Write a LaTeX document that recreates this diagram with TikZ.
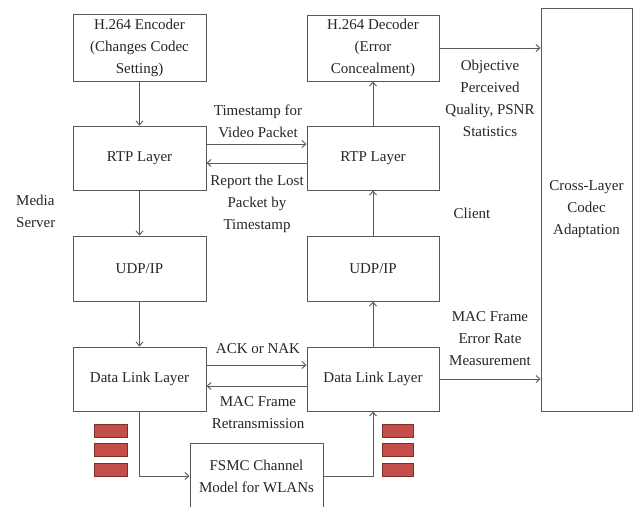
\documentclass[tikz,border=0pt]{standalone}
\usepackage{fontspec}
\setmainfont{Liberation Serif}
\usetikzlibrary{arrows.meta,calc}
\definecolor{barfill}{RGB}{196,78,74}
\definecolor{barline}{RGB}{130,45,42}
\begin{document}
\begin{tikzpicture}[x=1pt,y=-1pt,
  every node/.style={font=\fontsize{15pt}{22pt}\selectfont, text=black!85},
  box/.style={draw=black!65, line width=0.9pt, align=center, inner sep=0pt, minimum width=#1},
  box/.default=133pt,
  lbl/.style={align=center, inner sep=0pt},
  conn/.style={draw=black!65, line width=0.9pt, -{Straight Barb[length=4pt,width=7pt]}},
  redbar/.style={fill=barfill, draw=barline, line width=0.7pt}
]
\useasboundingbox (0,0) rectangle (636,506);
\clip (0,0) rectangle (636,506);
\fill[white] (0,0) rectangle (636,506);

% left column
\node[box, minimum height=67pt] (enc) at (139.5,47.5) {H.264 Encoder\\(Changes Codec\\Setting)};
\node[box, minimum height=64pt] (rtpL) at (139.5,158) {RTP Layer};
\node[box, minimum height=65pt] (udpL) at (139.5,268.5) {UDP/IP};
\node[box, minimum height=64pt] (dllL) at (139.5,379) {Data Link Layer};

% right column
\node[box=132pt, minimum height=66pt] (dec) at (373,48) {H.264 Decoder\\(Error\\Concealment)};
\node[box=132pt, minimum height=64pt] (rtpR) at (373,158) {RTP Layer};
\node[box=132pt, minimum height=65pt] (udpR) at (373,268.5) {UDP/IP};
\node[box=132pt, minimum height=64pt] (dllR) at (373,379) {Data Link Layer};

% cross layer
\node[box=91pt, minimum height=403pt] (cross) at (586.5,209.5) {Cross-Layer\\Codec\\Adaptation};

% FSMC
\node[box, minimum height=66pt] (fsmc) at (256.5,476) {FSMC Channel\\Model for WLANs};

% vertical arrows
\draw[conn] (enc.south) -- (rtpL.north);
\draw[conn] (rtpL.south) -- (udpL.north);
\draw[conn] (udpL.south) -- (dllL.north);
\draw[conn] (rtpR.north) -- (dec.south);
\draw[conn] (udpR.north) -- (rtpR.south);
\draw[conn] (dllR.north) -- (udpR.south);

% horizontal arrows
\draw[conn] ([yshift=14pt]rtpL.east) -- ([yshift=14pt]rtpR.west);
\draw[conn] ([yshift=-5pt]rtpR.west) -- ([yshift=-5pt]rtpL.east);
\draw[conn] ([yshift=14pt]dllL.east) -- ([yshift=14pt]dllR.west);
\draw[conn] ([yshift=-7pt]dllR.west) -- ([yshift=-7pt]dllL.east);
\draw[conn] (dec.east) -- (dec.east -| cross.west);
\draw[conn] (dllR.east) -- (dllR.east -| cross.west);

% channel loop
\draw[conn] (dllL.south) |- (fsmc.west);
\draw[conn] (fsmc.east) -| (dllR.south);

% labels
\node[lbl] (l1) at (258,121) {Timestamp for\\Video Packet};
\node[lbl] (l2) at (257,204) {Report the Lost\\Packet by\\Timestamp};
\node[lbl, align=left, anchor=west] (l3) at (16,211.5) {Media\\Server};
\node[lbl] (l4) at (490,98) {Objective\\Perceived\\Quality, PSNR\\Statistics};
\node[lbl] (l5) at (472,213) {Client};
\node[lbl] (l6) at (258,349) {ACK or NAK};
\node[lbl] (l7) at (258,413) {MAC Frame\\Retransmission};
\node[lbl] (l8) at (490,339) {MAC Frame\\Error Rate\\Measurement};

% red bars
\foreach \yy in {424,443,463} {
  \draw[redbar] (94,\yy) rectangle (127,\yy+13);
  \draw[redbar] (382,\yy) rectangle (413,\yy+13);
}
\end{tikzpicture}
\end{document}
